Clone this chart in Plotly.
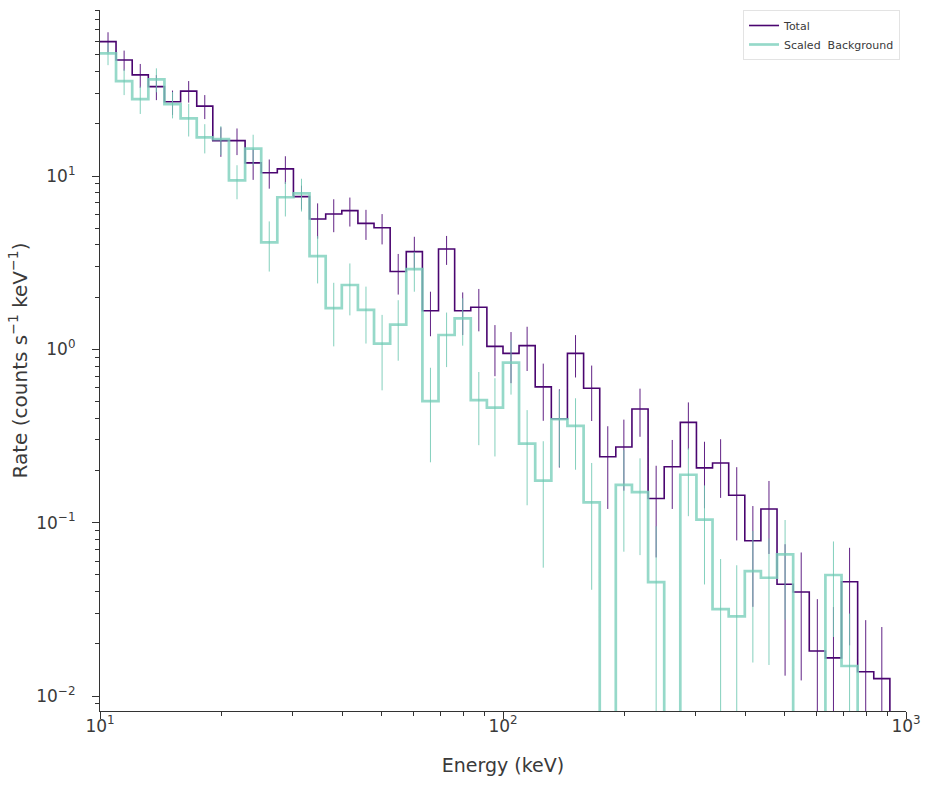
import numpy as np
import plotly.graph_objects as go

# Energy bin edges (keV)
edges = [10.0, 10.96, 12.02, 13.18, 14.45, 15.85, 17.38, 19.05, 20.89, 22.91,
         25.12, 27.54, 30.20, 33.11, 36.31, 39.81, 43.65, 47.86, 52.48, 57.54,
         63.10, 69.18, 75.86, 83.18, 91.20, 100.0, 109.6, 120.2, 131.8, 144.5,
         158.5, 173.8, 190.5, 208.9, 229.1, 251.2, 275.4, 302.0, 331.1, 363.1,
         398.1, 436.5, 478.6, 524.8, 575.4, 631.0, 691.8, 758.6, 831.8, 912.0]

total_rate = [59.6, 46.7, 38.3, 32.8, 26.8, 30.9, 25.3, 16.0, 16.0, 11.9,
              10.45, 11.0, 7.60, 5.65, 6.04, 6.31, 5.33, 5.03, 2.81, 3.66,
              1.67, 3.79, 1.67, 1.75, 1.04, 0.948, 1.05, 0.607, 0.398, 0.948,
              0.596, 0.240, 0.273, 0.453, 0.138, 0.210, 0.379, 0.207, 0.221, 0.144,
              0.0787, 0.120, 0.0441, 0.0398, 0.0182, 0.0166, 0.0456, 0.0138, 0.0126]
total_err = [7.9, 6.2, 6.0, 5.4, 4.3, 4.4, 4.0, 3.1, 2.8, 2.4,
             2.0, 2.0, 1.2, 1.3, 1.3, 1.2, 1.05, 1.0, 0.74, 0.8,
             0.48, 0.72, 0.46, 0.48, 0.34, 0.31, 0.30, 0.22, 0.19, 0.26,
             0.21, 0.12, 0.12, 0.14, 0.075, 0.09, 0.115, 0.086, 0.082, 0.065,
             0.046, 0.054, 0.031, 0.0275, 0.018, 0.016, 0.026, 0.0136, 0.0124]

bkg_rate = [51.0, 35.3, 27.8, 36.1, 26.0, 21.5, 16.7, 16.3, 9.44, 14.4,
            4.14, 7.54, 7.94, 3.45, 1.73, 2.35, 1.69, 1.08, 1.39, 2.90,
            0.503, 1.21, 1.51, 0.510, 0.461, 0.838, 0.286, 0.175, 0.395, 0.362,
            0.131, 0, 0.165, 0.150, 0.0454, 0, 0.189, 0.104, 0.0317, 0.0288,
            0.0526, 0.0481, 0.0656, 0, 0, 0.0499, 0.0149, 0, 0]
bkg_err = [7.4, 6.0, 5.0, 5.7, 4.5, 4.6, 3.2, 3.1, 2.1, 2.9,
           1.33, 1.7, 1.7, 1.05, 0.69, 0.78, 0.61, 0.5, 0.53, 0.75,
           0.28, 0.42, 0.46, 0.23, 0.22, 0.29, 0.16, 0.12, 0.185, 0.16,
           0.09, 0, 0.097, 0.085, 0.05, 0, 0.08, 0.06, 0.030, 0.028,
           0.037, 0.033, 0.038, 0, 0, 0.028, 0.015, 0, 0]

x_ticks = [10, 100, 1000]
x_ticktext = ["10<sup>1</sup>", "10<sup>2</sup>", "10<sup>3</sup>"]
y_ticks = [0.01, 0.1, 1, 10]
y_ticktext = ["10<sup>\u22122</sup>", "10<sup>\u22121</sup>", "10<sup>0</sup>", "10<sup>1</sup>"]

PURPLE = "#4a0570"
PURPLE_ERR = "rgba(80,10,120,0.9)"
TEAL = "rgba(124,207,188,0.8)"
TEAL_ERR = "rgba(110,200,178,0.85)"
TXT = "#3a3a3a"
FLOOR = 1e-6

e = np.array(edges)
centers = np.sqrt(e[:-1] * e[1:])


def step_y(vals):
    v = [val if val > 0 else FLOOR for val in vals]
    return v + [FLOOR]


def err_arrays(vals, errs):
    ys, up, dn = [], [], []
    for v, er in zip(vals, errs):
        if v > 0:
            ys.append(v)
            up.append(er)
            dn.append(min(er, v - FLOOR))
        else:
            ys.append(None)
            up.append(0)
            dn.append(0)
    return ys, up, dn


fig = go.Figure()

fig.add_trace(go.Scatter(x=edges, y=step_y(total_rate), mode="lines",
                         line=dict(shape="hv", color=PURPLE, width=1.6),
                         name="Total"))
ty, tu, td = err_arrays(total_rate, total_err)
fig.add_trace(go.Scatter(x=centers, y=ty, mode="markers", marker=dict(size=0.1, opacity=0),
                         error_y=dict(type="data", symmetric=False, array=tu, arrayminus=td,
                                      thickness=1, width=0, color=PURPLE_ERR),
                         showlegend=False, hoverinfo="skip"))

fig.add_trace(go.Scatter(x=edges, y=step_y(bkg_rate), mode="lines",
                         line=dict(shape="hv", color=TEAL, width=2.7),
                         name="Scaled\u00a0 Background"))
by, bu, bd = err_arrays(bkg_rate, bkg_err)
fig.add_trace(go.Scatter(x=centers, y=by, mode="markers", marker=dict(size=0.1, opacity=0),
                         error_y=dict(type="data", symmetric=False, array=bu, arrayminus=bd,
                                      thickness=1, width=0, color=TEAL_ERR),
                         showlegend=False, hoverinfo="skip"))

minor_x = [m * 10 ** k for k in (1, 2) for m in range(2, 10)]
minor_y = [m * 10 ** k for k in (-3, -2, -1, 0, 1) for m in range(2, 10)]

axis_common = dict(showline=True, linecolor="#333333", linewidth=1.25, mirror=False,
                   showgrid=False, zeroline=False, ticks="outside", ticklen=7,
                   tickwidth=1.25, tickcolor="#333333",
                   tickfont=dict(family="DejaVu Sans", size=17, color=TXT))

fig.update_xaxes(type="log", range=[1, 3], tickvals=x_ticks, ticktext=x_ticktext,
                 ticklabelstandoff=-8,
                 title=dict(text="Energy (keV)", font=dict(family="DejaVu Sans", size=19, color=TXT),
                            standoff=24),
                 minor=dict(tickvals=minor_x, ticks="outside", ticklen=4, tickwidth=1,
                            tickcolor="#333333", showgrid=False),
                 **axis_common)
fig.update_yaxes(type="log", range=[-2.0865, 1.9577], tickvals=y_ticks, ticktext=y_ticktext,
                 ticklabelstandoff=13,
                 title=dict(text="Rate (counts s<sup>\u22121</sup> keV<sup>\u22121</sup>)",
                            font=dict(family="DejaVu Sans", size=20, color=TXT),
                            standoff=3),
                 minor=dict(tickvals=minor_y, ticks="outside", ticklen=4, tickwidth=1,
                            tickcolor="#333333", showgrid=False),
                 **axis_common)

fig.update_layout(width=930, height=786, margin=dict(l=100, r=24, t=10, b=75),
                  plot_bgcolor="white", paper_bgcolor="white",
                  legend=dict(x=0.9926, y=1.0, xanchor="right", yanchor="top",
                              bgcolor="rgba(255,255,255,0.8)", bordercolor="#e3e3e3",
                              borderwidth=1, itemwidth=30, tracegroupgap=0,
                              font=dict(family="DejaVu Sans", size=11, color=TXT)),
                  showlegend=True)

fig.write_html("out.html")
